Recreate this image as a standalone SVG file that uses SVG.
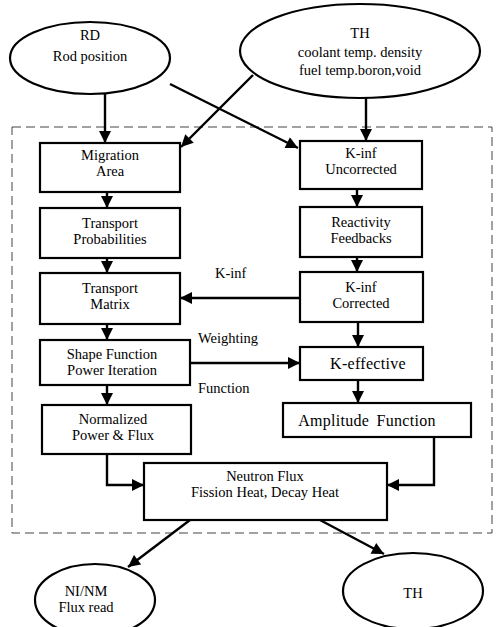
<svg xmlns="http://www.w3.org/2000/svg" width="496" height="627" viewBox="0 0 496 627">
<defs>
<marker id="ah" viewBox="0 0 10 10" refX="10" refY="5" markerWidth="5.5" markerHeight="5" orient="auto" markerUnits="strokeWidth">
<path d="M0,0 L10,5 L0,10 Z" fill="#000"/>
</marker>
<style>
.n{fill:#fff;stroke:#000;stroke-width:2.2}
.t{font-family:"Liberation Serif","Times New Roman",serif;font-size:14.5px;fill:#000;text-anchor:middle}
.b{font-size:16px;word-spacing:3px;letter-spacing:0.3px}
.l{font-family:"Liberation Serif","Times New Roman",serif;font-size:14.5px;fill:#000}
.c{fill:none;stroke:#000;stroke-width:2.4;marker-end:url(#ah)}
</style>
</defs>
<rect x="12" y="127" width="480" height="406" fill="none" stroke="#444" stroke-width="1" stroke-dasharray="9,5"/>
<g id="rd"><ellipse class="n" cx="90" cy="58" rx="80" ry="36"/><text class="t" x="90" y="40">RD</text><text class="t" x="90" y="61">Rod position</text></g>
<g id="th-in"><ellipse class="n" cx="360" cy="51" rx="120" ry="47"/><text class="t" x="360" y="38">TH</text><text class="t" x="360" y="57">coolant temp. density</text><text class="t" x="360" y="75">fuel temp.boron,void</text></g>
<g id="migration"><rect class="n" x="40" y="143" width="140" height="49"/><text class="t" x="110" y="160">Migration</text><text class="t" x="110" y="176">Area</text></g>
<g id="kinf-unc"><rect class="n" x="300" y="141" width="122" height="48"/><text class="t" x="361" y="158">K-inf</text><text class="t" x="361" y="174">Uncorrected</text></g>
<g id="tprob"><rect class="n" x="40" y="208" width="140" height="50"/><text class="t" x="110" y="228">Transport</text><text class="t" x="110" y="244">Probabilities</text></g>
<g id="reactivity"><rect class="n" x="300" y="207" width="122" height="50"/><text class="t" x="361" y="227">Reactivity</text><text class="t" x="361" y="243">Feedbacks</text></g>
<g id="tmatrix"><rect class="n" x="40" y="273" width="140" height="51"/><text class="t" x="110" y="293">Transport</text><text class="t" x="110" y="309">Matrix</text></g>
<g id="kinf-cor"><rect class="n" x="300" y="272" width="123" height="50"/><text class="t" x="361" y="292">K-inf</text><text class="t" x="361" y="308">Corrected</text></g>
<g id="shape"><rect class="n" x="40" y="340" width="150" height="45"/><text class="t" x="112" y="359">Shape Function</text><text class="t" x="112" y="375">Power Iteration</text></g>
<g id="keff"><rect class="n" x="300" y="347" width="123" height="33"/><text class="t b" x="368" y="369">K-effective</text></g>
<g id="norm"><rect class="n" x="42" y="405" width="149" height="49"/><text class="t" x="113" y="424">Normalized</text><text class="t" x="113" y="440">Power &amp; Flux</text></g>
<g id="amp"><rect class="n" x="283" y="403" width="188" height="34"/><text class="t b" x="367" y="426">Amplitude Function</text></g>
<g id="nflux"><rect class="n" x="144" y="463" width="243" height="57"/><text class="t" x="265" y="481">Neutron Flux</text><text class="t" x="265" y="497">Fission Heat, Decay Heat</text></g>
<g id="ninm"><ellipse class="n" cx="95" cy="600" rx="60" ry="36"/><text class="t" x="86" y="596">NI/NM</text><text class="t" x="86" y="612">Flux read</text></g>
<g id="th-out"><ellipse class="n" cx="413" cy="591" rx="70" ry="38"/><text class="t" x="413" y="598">TH</text></g>
<g id="labels"><text class="l" x="215" y="278">K-inf</text><text class="l" x="198" y="343">Weighting</text><text class="l" x="198" y="393">Function</text></g>
<g id="connectors">
<path class="c" d="M105,94 L105,143"/>
<path class="c" d="M366,98 L366,141"/>
<path class="c" d="M170,84 L298,148"/>
<path class="c" d="M253,75 L181,147"/>
<path class="c" d="M107,192 L107,208"/>
<path class="c" d="M357,189 L357,207"/>
<path class="c" d="M107,258 L107,273"/>
<path class="c" d="M357,257 L357,272"/>
<path class="c" d="M300,298 L180,298"/>
<path class="c" d="M107,324 L107,340"/>
<path class="c" d="M358,322 L358,347"/>
<path class="c" d="M190,363 L300,363"/>
<path class="c" d="M107,385 L107,405"/>
<path class="c" d="M358,380 L358,403"/>
<path class="c" d="M107,454 L107,485 L144,485"/>
<path class="c" d="M434,437 L434,485 L387,485"/>
<path class="c" d="M190,520 L128,567"/>
<path class="c" d="M320,520 L384,554"/>
</g>
</svg>
